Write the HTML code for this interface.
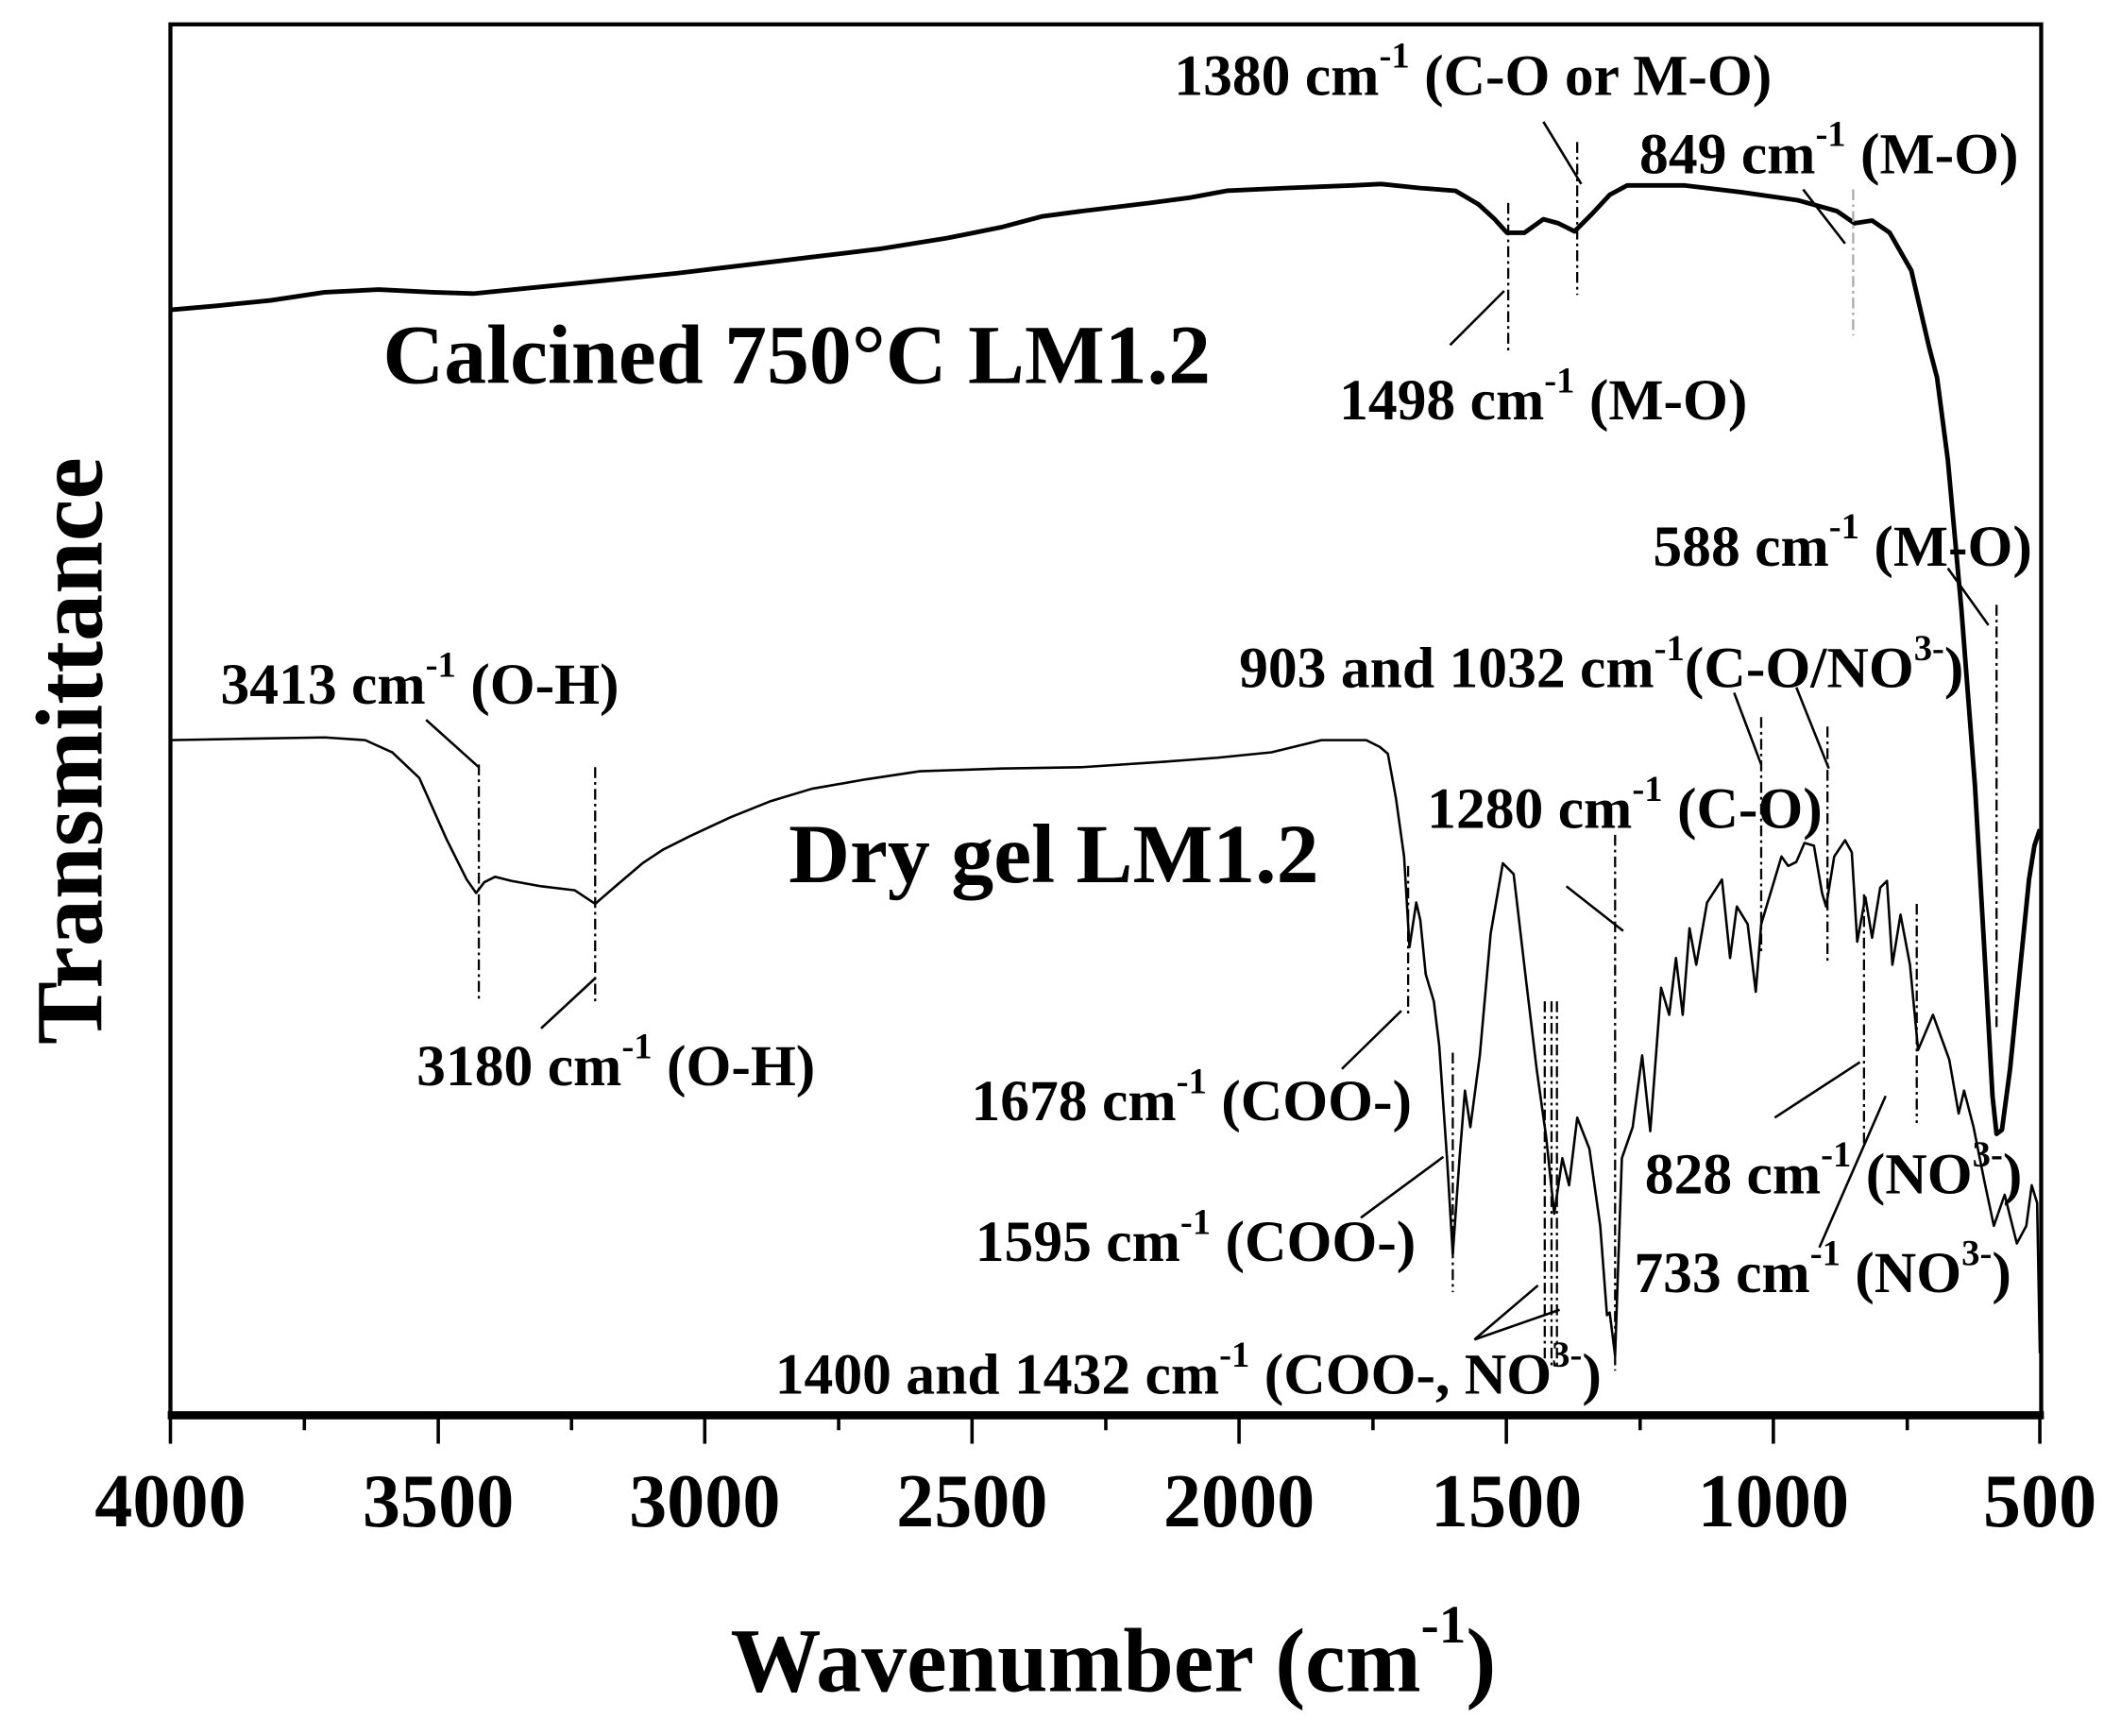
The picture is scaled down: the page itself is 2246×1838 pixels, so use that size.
<!DOCTYPE html>
<html><head><meta charset="utf-8"><style>
html,body{margin:0;padding:0;background:#fff;}
svg{display:block;}
text{font-family:"Liberation Serif",serif;font-weight:bold;fill:#000;}
</style></head><body>
<svg width="2246" height="1838" viewBox="0 0 1568 1283" preserveAspectRatio="none" xmlns="http://www.w3.org/2000/svg">
<rect x="0" y="0" width="1568" height="1283" fill="#fff"/>
<rect x="126" y="18" width="1383" height="1028" fill="none" stroke="#000" stroke-width="3"/>
<line x1="124" y1="1046" x2="1511" y2="1046" stroke="#000" stroke-width="6"/>
<g stroke="#000" stroke-width="2.5">
<line x1="126" y1="1046" x2="126" y2="1067"/><line x1="324" y1="1046" x2="324" y2="1067"/>
<line x1="521" y1="1046" x2="521" y2="1067"/><line x1="718.6" y1="1046" x2="718.6" y2="1067"/>
<line x1="916" y1="1046" x2="916" y2="1067"/><line x1="1113.6" y1="1046" x2="1113.6" y2="1067"/>
<line x1="1311" y1="1046" x2="1311" y2="1067"/><line x1="1508" y1="1046" x2="1508" y2="1067"/>
<line x1="225" y1="1046" x2="225" y2="1057"/><line x1="422.5" y1="1046" x2="422.5" y2="1057"/>
<line x1="620" y1="1046" x2="620" y2="1057"/><line x1="817.5" y1="1046" x2="817.5" y2="1057"/>
<line x1="1015" y1="1046" x2="1015" y2="1057"/><line x1="1212.5" y1="1046" x2="1212.5" y2="1057"/>
<line x1="1410" y1="1046" x2="1410" y2="1057"/>
</g>
<g font-size="56" text-anchor="middle">
<text x="126" y="1128">4000</text><text x="324" y="1128">3500</text><text x="521" y="1128">3000</text>
<text x="718.6" y="1128">2500</text><text x="916" y="1128">2000</text><text x="1113.6" y="1128">1500</text>
<text x="1311" y="1128">1000</text><text x="1508" y="1128">500</text>
</g>
<text x="540" y="1250" font-size="67">Wavenumber (cm<tspan dy="-36" font-size="40">-1</tspan><tspan dy="36">)</tspan></text>
<text transform="translate(75,555) rotate(-90)" text-anchor="middle" font-size="70">Transmittance</text>

<polyline fill="none" stroke="#000" stroke-width="3.4" stroke-linejoin="round" points="126,229 160,226 200,222 240,216 280,214 320,216 350,217 400,212 450,207 500,202 550,196 600,190 650,184 700,176 740,168 770,160 800,156 850,150 880,146 907,141 950,139 1000,137 1021,136 1050,139 1076,141 1093,151 1105,162 1114,172 1127,172 1141,162 1152,165 1164,171 1177,158 1190,144 1203,137 1245,137 1287,142 1329,148 1358,156 1371,165 1384,163 1397,172 1413,200 1426,256 1432,279 1440,340 1450,450 1460,580 1468,720 1473,810 1476,838 1480,835 1486,790 1493,720 1500,650 1504,625 1508,613"/>

<polyline fill="none" stroke="#000" stroke-width="1.8" stroke-linejoin="round" points="126,547 180,546 240,545 270,547 290,556 310,575 330,620 345,650 352,660 358,652 366,648 378,651 400,655 425,658 440,668 455,655 475,638 490,628 510,618 540,604 570,592 600,583 640,576 680,570 740,568 800,567 860,563 900,560 940,556 977,547 1010,547 1020,552 1026,557 1032,590 1038,633 1042,700 1047,667 1050,680 1054,720 1060,740 1064,773 1070,860 1074,927 1079,856 1083,806 1087,833 1094,780 1102,690 1111,638 1119,646 1128,723 1136,790 1143,840 1149,897 1155,856 1160,876 1166,826 1175,849 1183,906 1188,972 1190,970 1194,1002 1199,856 1207,833 1214,780 1220,836 1228,730 1234,750 1239,708 1244,750 1249,686 1254,713 1262,667 1273,650 1279,708 1284,670 1292,683 1298,733 1302,683 1317,633 1322,640 1328,637 1334,623 1341,625 1347,660 1350,670 1356,633 1364,621 1369,630 1373,696 1379,663 1384,693 1390,656 1395,651 1399,713 1405,676 1412,713 1418,776 1429,750 1441,783 1448,823 1452,806 1459,833 1467,873 1474,906 1482,883 1491,919 1498,906 1502,876 1506,889 1508,1000"/>

<g stroke="#000" stroke-width="1.6" stroke-dasharray="8,3,2,3" fill="none">
<line x1="1115" y1="150" x2="1115" y2="262"/>
<line x1="1166" y1="105" x2="1166" y2="218"/>
<line x1="354" y1="565" x2="354" y2="740"/>
<line x1="440" y1="567" x2="440" y2="740"/>
<line x1="1041" y1="640" x2="1041" y2="752"/>
<line x1="1074" y1="778" x2="1074" y2="955"/>
<line x1="1142" y1="740" x2="1142" y2="1010"/>
<line x1="1147" y1="740" x2="1147" y2="1010"/>
<line x1="1151" y1="740" x2="1151" y2="1010"/>
<line x1="1194" y1="617" x2="1194" y2="1013"/>
<line x1="1302" y1="530" x2="1302" y2="705"/>
<line x1="1351" y1="537" x2="1351" y2="712"/>
<line x1="1378" y1="661" x2="1378" y2="845"/>
<line x1="1417" y1="668" x2="1417" y2="830"/>
<line x1="1476" y1="447" x2="1476" y2="760"/>
</g>
<line x1="1370" y1="140" x2="1370" y2="248" stroke="#aaa" stroke-width="1.6" stroke-dasharray="8,3,2,3"/>

<g stroke="#000" stroke-width="1.8">
<line x1="1141" y1="90" x2="1169" y2="136"/>
<line x1="1072" y1="255" x2="1112" y2="215"/>
<line x1="1333" y1="140" x2="1364" y2="180"/>
<line x1="1440" y1="420" x2="1470" y2="462"/>
<line x1="1282" y1="512" x2="1302" y2="565"/>
<line x1="1328" y1="508" x2="1352" y2="568"/>
<line x1="315" y1="532" x2="354" y2="567"/>
<line x1="400" y1="760" x2="440" y2="723"/>
<line x1="1158" y1="655" x2="1200" y2="688"/>
<line x1="992" y1="790" x2="1036" y2="747"/>
<line x1="1006" y1="900" x2="1067" y2="855"/>
<line x1="1090" y1="990" x2="1137" y2="950"/>
<line x1="1090" y1="990" x2="1153" y2="968"/>
<line x1="1312" y1="826" x2="1375" y2="785"/>
<line x1="1345" y1="922" x2="1394" y2="810"/>
</g>

<g font-size="43">
<text x="868" y="70">1380 cm<tspan dy="-20" font-size="27">-1</tspan><tspan dy="20"> (C-O or M-O)</tspan></text>
<text x="1212" y="128">849 cm<tspan dy="-20" font-size="27">-1</tspan><tspan dy="20"> (M-O)</tspan></text>
<text x="990" y="310">1498 cm<tspan dy="-20" font-size="27">-1</tspan><tspan dy="20"> (M-O)</tspan></text>
<text x="1222" y="418">588 cm<tspan dy="-20" font-size="27">-1</tspan><tspan dy="20"> (M-O)</tspan></text>
<text x="916" y="508">903 and 1032 cm<tspan dy="-20" font-size="27">-1</tspan><tspan dy="20">(C-O/NO</tspan><tspan dy="-20" font-size="27">3-</tspan><tspan dy="20">)</tspan></text>
<text x="163" y="520">3413 cm<tspan dy="-20" font-size="27">-1</tspan><tspan dy="20"> (O-H)</tspan></text>
<text x="1055" y="612">1280 cm<tspan dy="-20" font-size="27">-1</tspan><tspan dy="20"> (C-O)</tspan></text>
<text x="308" y="802">3180 cm<tspan dy="-20" font-size="27">-1</tspan><tspan dy="20"> (O-H)</tspan></text>
<text x="718" y="828">1678 cm<tspan dy="-20" font-size="27">-1</tspan><tspan dy="20"> (COO-)</tspan></text>
<text x="1216" y="882">828 cm<tspan dy="-20" font-size="27">-1</tspan><tspan dy="20"> (NO</tspan><tspan dy="-20" font-size="27">3-</tspan><tspan dy="20">)</tspan></text>
<text x="721" y="932">1595 cm<tspan dy="-20" font-size="27">-1</tspan><tspan dy="20"> (COO-)</tspan></text>
<text x="1208" y="955">733 cm<tspan dy="-20" font-size="27">-1</tspan><tspan dy="20"> (NO</tspan><tspan dy="-20" font-size="27">3-</tspan><tspan dy="20">)</tspan></text>
<text x="573" y="1030">1400 and 1432 cm<tspan dy="-20" font-size="27">-1</tspan><tspan dy="20"> (COO-, NO</tspan><tspan dy="-20" font-size="27">3-</tspan><tspan dy="20">)</tspan></text>
</g>
<text x="283" y="283" font-size="62" textLength="612" lengthAdjust="spacingAndGlyphs">Calcined 750°C LM1.2</text>
<text x="583" y="652" font-size="62" textLength="392" lengthAdjust="spacingAndGlyphs">Dry gel LM1.2</text>
</svg>
</body></html>
